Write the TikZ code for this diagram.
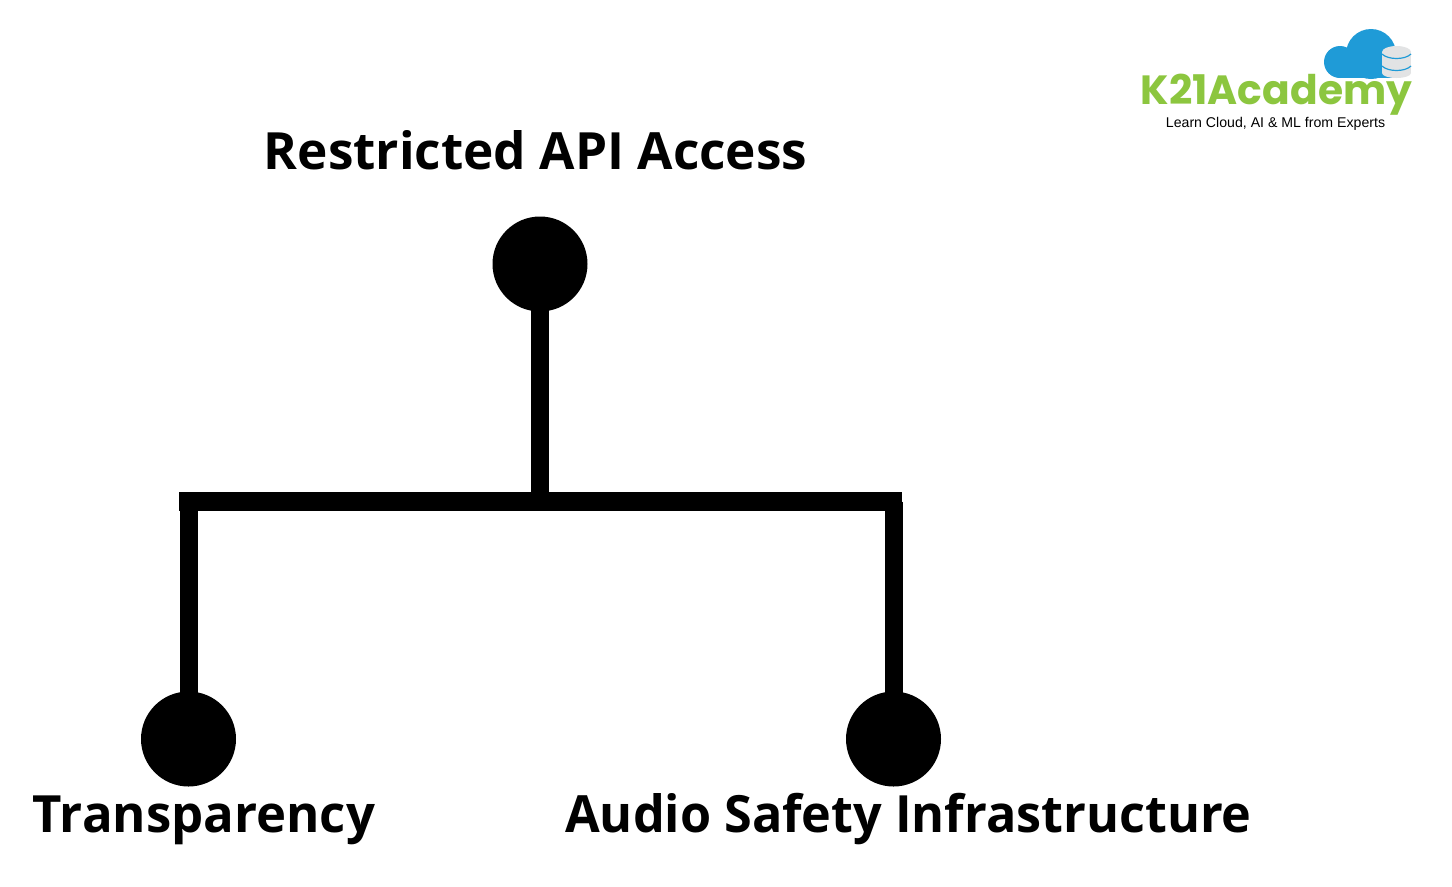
\documentclass[tikz,border=0pt]{standalone}
\usepackage{fontspec}
\setmainfont{Open Sans}
\newfontfamily\logofont{Poppins}
\newfontfamily\tagfont{Liberation Sans}
\definecolor{kgreen}{HTML}{8CC63F}
\definecolor{kblue}{HTML}{1F9BD7}
\definecolor{kgrey}{HTML}{E2E3E4}
\tikzset{
  px/.style={x=0.75pt,y=-0.75pt},
  dot/.style={circle,fill=black,inner sep=0pt,minimum size=71.25pt},
  link/.style={draw=black,line width=13.5pt},
  barlink/.style={draw=black,line width=14.25pt},
  lab/.style={font=\fontsize{38.5pt}{40pt}\selectfont\bfseries,text=black,inner sep=0pt,anchor=base}
}
\begin{document}
\begin{tikzpicture}[px]
\useasboundingbox (0,0) rectangle (1452,886);
\fill[white] (0,0) rectangle (1452,886);
\node[dot] (top) at (540,264) {};
\node[dot] (left) at (188.5,739) {};
\node[dot] (right) at (893.5,739) {};
\coordinate (hub) at (540,501.5);
\coordinate (hl) at (179,501.5);
\coordinate (hr) at (902,501.5);
\draw[link] (top.center) -- (hub);
\draw[barlink] (hl) -- (hr);
\draw[link] (left.center |- hub) -- (left.center);
\draw[link] (right.center |- hub) -- (right.center);
\node[lab] (t1) at (535.5,169.5) {Restricted API Access};
\node[lab] (t2) at (204,832) {\scalebox{0.991}[1]{Transparency}};
\node[lab] (t3) at (908.5,832) {\scalebox{0.98}[1]{Audio Safety Infrastructure}};
% cloud
\fill[kblue] (1340,62) circle [radius=16];
\fill[kblue] (1371,54) circle [radius=25];
\fill[kblue] (1388,62) circle [radius=16];
\fill[kblue] (1340,60) rectangle (1390,78);
% database
\fill[kgrey] (1382,52) rectangle (1411,73);
\fill[kgrey] (1396.5,52) ellipse [x radius=14.5,y radius=6];
\fill[kgrey] (1396.5,73) ellipse [x radius=14.5,y radius=5];
\draw[kblue,line width=0.9pt] (1382,54) .. controls (1388,60) and (1405,60) .. (1411,54);
\draw[kblue,line width=0.9pt] (1382,66) .. controls (1388,72) and (1405,72) .. (1411,66);
\node[inner sep=0pt,anchor=base,text=kgreen,font=\logofont\fontsize{30.6pt}{32pt}\selectfont\bfseries] (logo) at (1276.5,104.5) {K21Academy};
\node[inner sep=0pt,font=\tagfont\fontsize{10.6pt}{11pt}\selectfont] (tag) at (1275.5,123.5) {Learn Cloud, AI \& ML from Experts};
\end{tikzpicture}
\end{document}
